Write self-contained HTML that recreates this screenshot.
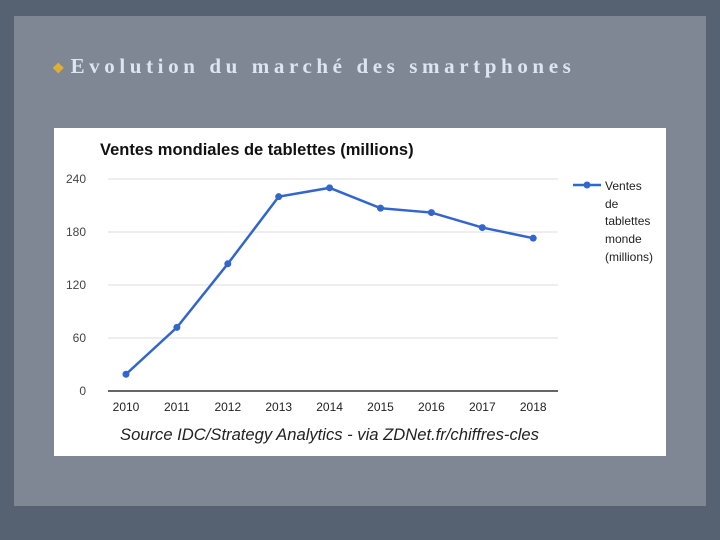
<!DOCTYPE html>
<html><head><meta charset="utf-8"><style>
html,body{margin:0;padding:0;}
body{width:720px;height:540px;background:#566172;position:relative;overflow:hidden;font-family:"Liberation Sans",sans-serif;}
#panel{position:absolute;left:14px;top:16px;width:692px;height:490px;background:#7f8795;}
#title{position:absolute;left:52px;top:54px;font-family:"Liberation Serif",serif;font-size:21px;font-weight:bold;letter-spacing:4.6px;color:#dde5f0;}
#bullet{color:#e0b030;font-size:14px;margin-right:6px;letter-spacing:0}
#chart{position:absolute;left:54px;top:128px;}
</style></head><body>
<div id="panel"></div>
<div id="title"><span id="bullet">❖</span>Evolution du marché des smartphones</div>
<svg id="chart" width="612" height="328">
<rect width="612" height="328" fill="#fff"/>
<text x="46" y="27" font-size="16.5" font-weight="bold" fill="#111">Ventes mondiales de tablettes (millions)</text>
<g id="grid"></g><g id="series"></g>
<line x1="519" y1="57" x2="547" y2="57" stroke="#3366cc" stroke-width="2.5"/>
<circle cx="533" cy="57" r="3.5" fill="#3366cc"/>
<text font-size="12" fill="#222"><tspan x="551" y="62">Ventes</tspan><tspan x="551" y="80">de</tspan><tspan x="551" y="97">tablettes</tspan><tspan x="551" y="115">monde</tspan><tspan x="551" y="133">(millions)</tspan></text>
<text x="66" y="312" font-size="16.6" font-style="italic" fill="#222">Source IDC/Strategy Analytics - via ZDNet.fr/chiffres-cles</text>
</svg>
<script>
const categories=["2010","2011","2012","2013","2014","2015","2016","2017","2018"];
const values=[19,72,144,220,230,207,202,185,173];
const yTicks=[0,60,120,180,240];
const NS="http://www.w3.org/2000/svg";
const svg=document.getElementById('chart');
const grid=document.getElementById('grid'),ser=document.getElementById('series');
const x=i=>72+i*50.9, y=v=>263-v*212/240;
function mk(t,a,p){const e=document.createElementNS(NS,t);for(const k in a)e.setAttribute(k,a[k]);p.appendChild(e);return e;}
yTicks.forEach(v=>{
 const l=mk('line',{x1:54,x2:504,y1:y(v),y2:y(v),stroke:v===0?'#333':'#ddd','stroke-width':v===0?1.5:1},grid);
 
 
 const t=mk('text',{x:32,y:y(v)+4,'font-size':12,fill:'#444','text-anchor':'end'},grid);t.textContent=v;
 
 
});
categories.forEach((c,i)=>{
 const t=mk('text',{x:x(i),y:283,'font-size':12,fill:'#222','text-anchor':'middle'},grid);t.textContent=c;
 
 
});
const pl=mk('polyline',{points:values.map((v,i)=>x(i)+','+y(v)).join(' '),fill:'none',stroke:'#3366cc','stroke-width':2.5},ser);


values.forEach((v,i)=>{
 const c=mk('circle',{cx:x(i),cy:y(v),r:3.5,fill:'#3366cc'},ser);
 
 
});
</script>
</body></html>
